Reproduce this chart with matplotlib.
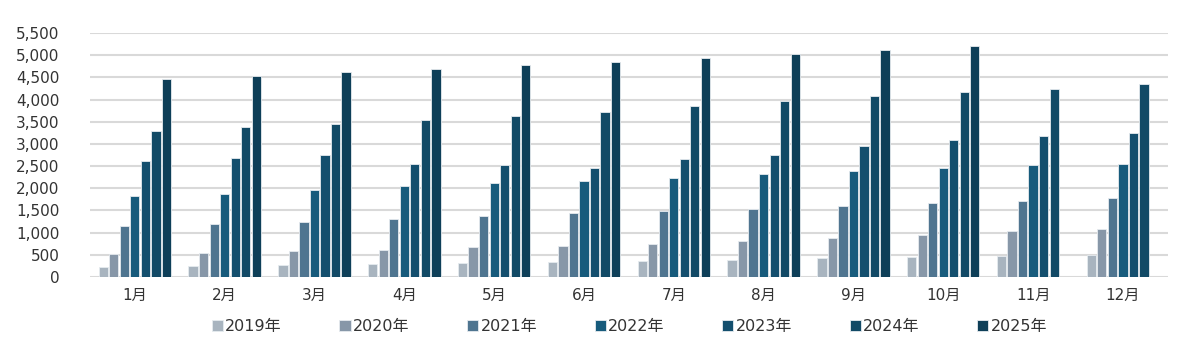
import numpy as np
import matplotlib.pyplot as plt

plt.rcParams['font.family'] = ['DejaVu Sans', 'Noto Sans CJK JP']

months = ['1月', '2月', '3月', '4月', '5月', '6月', '7月', '8月', '9月', '10月', '11月', '12月']
years = ['2019年', '2020年', '2021年', '2022年', '2023年', '2024年', '2025年']

v2019 = [230, 250, 270, 293, 308, 331, 353, 390, 421, 450, 480, 502]
v2020 = [520, 550, 580, 615, 668, 705, 750, 810, 878, 952, 1029, 1087]
v2021 = [1140, 1190, 1240, 1299, 1373, 1434, 1479, 1538, 1592, 1659, 1718, 1772]
v2022 = [1830, 1880, 1958, 2049, 2123, 2168, 2222, 2312, 2380, 2454, 2515, 2551]
v2023 = [2625, 2680, 2740, 2537, 2514, 2461, 2663, 2753, 2956, 3077, 3181, 3235]
v2024 = [3300, 3370, 3437, 3534, 3631, 3721, 3843, 3978, 4075, 4165, 4248, 4361]
v2025 = [4455, 4530, 4631, 4683, 4788, 4840, 4937, 5036, 5110, 5207, np.nan, np.nan]

series = [v2019, v2020, v2021, v2022, v2023, v2024, v2025]
colors = ['#a8b4bf', '#8797a8', '#4f7590', '#175b7c', '#144f6e', '#124a66', '#0e3f58']

fig, ax = plt.subplots(figsize=(11.99, 3.55), dpi=100)
fig.subplots_adjust(left=0.075, right=0.974, bottom=0.22, top=0.907)

x = np.arange(len(months))
slot = 0.82 / len(series)
for i, (vals, c) in enumerate(zip(series, colors)):
    offs = (i - (len(series) - 1) / 2) * slot
    ax.bar(x + offs, vals, width=slot * 0.88, color=c, label=years[i],
           edgecolor='#e6ebef', linewidth=0.6, zorder=3)

ax.set_xlim(-0.5, len(months) - 0.5)
ax.set_ylim(0, 5500)
ax.set_yticks(np.arange(0, 5501, 500))
ax.set_yticklabels([f'{v:,}' for v in range(0, 5501, 500)])
ax.set_xticks(x)
ax.set_xticklabels(months)
ax.tick_params(axis='both', length=0, labelsize=11, colors='#333333')
ax.tick_params(axis='y', pad=22)
ax.tick_params(axis='x', pad=8)
ax.grid(axis='y', color='#d9d9d9', linewidth=1.5, zorder=0)
for s in ax.spines.values():
    s.set_visible(False)

fig.legend(loc='center', bbox_to_anchor=(0.525, 0.079), ncol=7, frameon=False,
           fontsize=11.5, handlelength=0.7, handleheight=0.7, handletextpad=0.15,
           columnspacing=3.6, labelcolor='#333333')

fig.savefig('out.png', dpi=100)
